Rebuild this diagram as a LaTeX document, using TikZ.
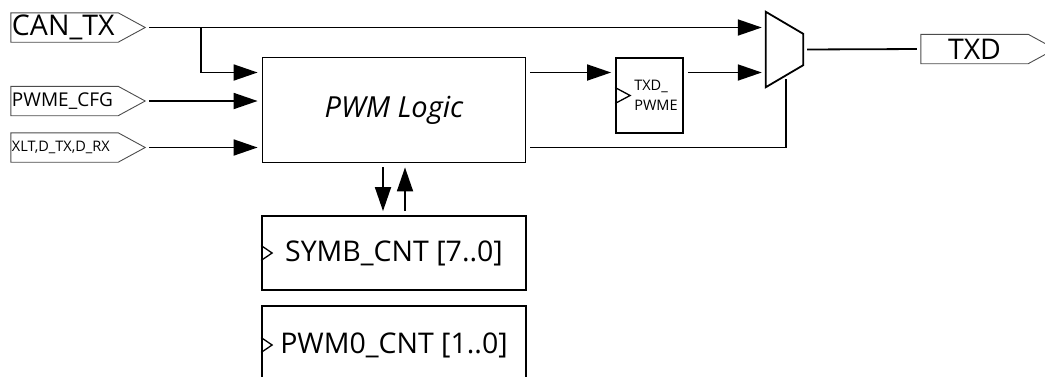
\documentclass[tikz,border=0pt]{standalone}
\usepackage{fontspec}
\setmainfont{Open Sans}
\usetikzlibrary{arrows.meta}
\usetikzlibrary{calc}

\begin{document}
\begin{tikzpicture}[x=1pt, y=-1pt,
    wire/.style={line width=1.8pt, shorten <=4pt, shorten >=4pt},
    arr/.style={-{Triangle[length=24pt,width=16pt]}},
    blk/.style={draw, line width=1.8pt, inner sep=0pt},
    port/.style={inner sep=1pt, minimum height=29pt, text width=105pt, align=left},
    portline/.style={draw=black!70, line width=0.9pt},
    clk/.style={line width=1.3pt},
    big/.style={font=\fontsize{28.5}{34}\selectfont}]
    \useasboundingbox (0,0) rectangle (1045,376);

    \path (64.5,27.5) node [port,big] (cantx) {CAN\_TX};
    \path (64.5,101) node [port,font=\fontsize{19}{23}\selectfont] (pwmecfg) {PWME\_CFG};
    \path (64.5,147.5) node [port,font=\fontsize{14.5}{18}\selectfont] (xlt) {XLT,D\_TX,D\_RX};
    \path (974.5,49) node [port,big,align=center] (txd) {TXD};
    \foreach \p in {cantx,pwmecfg,xlt,txd}
	\draw [portline] (\p.north west) -- (\p.north east) -- ([xshift=27pt]\p.east)
	coordinate (tip\p) -- (\p.south east) -- (\p.south west) -- cycle;

    \path (394,110) node [blk, minimum width=263pt, minimum height=105pt,
	font=\fontsize{29}{34}\selectfont\itshape] (pwm) {PWM Logic};
    \path (649.5,95.5) node [blk, minimum width=67pt, minimum height=75pt,
	label={[font=\fontsize{14.5}{20}\selectfont, align=left, anchor=west,
	inner sep=0pt, xshift=19pt]west:{TXD\_\\PWME}}] (ff) {};
    \path (784.5,49.5) node [inner sep=0pt, minimum width=37pt, minimum height=75pt] (mux) {};
    \draw [line width=1.8pt] (mux.north west) -- ([yshift=-22pt]mux.north east) --
	([yshift=22pt]mux.south east) -- (mux.south west) -- cycle;
    \path (394,253) node [blk, big, minimum width=264pt, minimum height=74pt] (symb) {SYMB\_CNT [7..0]};
    \path (394,345) node [blk, big, minimum width=264pt, minimum height=78pt] (pwmcnt) {PWM0\_CNT [1..0]};
    \foreach \b/\w/\h in {ff/15/8,symb/11/7.5,pwmcnt/11/7.5}
	\draw [clk] ([yshift=\h pt]\b.west) -- ++(\w,\h) -- ++(-\w,\h);

    \coordinate (canbr) at (201,27.5);
    \coordinate (rowa) at (0,72.5);
    \coordinate (muxsel) at ($(mux.south west)!0.54!([yshift=22pt]mux.south east)$);
    \draw [wire,arr] (tipcantx) -- (tipcantx -| mux.west);
    \draw [wire,arr,shorten <=0pt] (canbr) |- (pwm.west |- rowa);
    \draw [wire,arr] (tippwmecfg) -- (tippwmecfg -| pwm.west);
    \draw [wire,arr] (tipxlt) -- (tipxlt -| pwm.west);
    \draw [wire,arr] (pwm.east |- rowa) -- (ff.west |- rowa);
    \draw [wire,arr] (ff.east |- rowa) -- (mux.west |- rowa);
    \draw [wire] (pwm.east |- tipxlt) -| (muxsel);
    \draw [wire] (mux.east) -- (txd.west);
    \draw [wire,arr] ([xshift=-11pt]pwm.south) -- ([xshift=-11pt]symb.north);
    \draw [wire,arr] ([xshift=11pt]symb.north) -- ([xshift=11pt]pwm.south);
\end{tikzpicture}
\end{document}
